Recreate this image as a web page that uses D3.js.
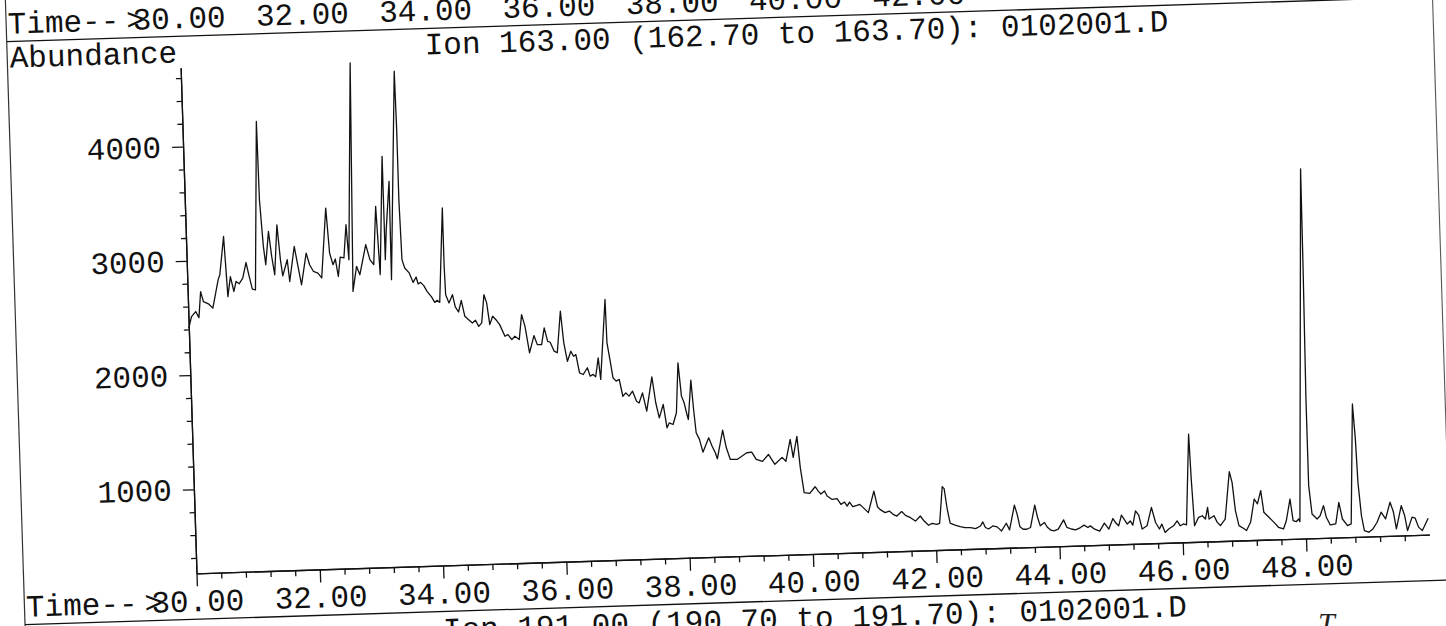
<!DOCTYPE html>
<html><head><meta charset="utf-8">
<script src="https://cdn.jsdelivr.net/npm/d3@7"></script>
<style>html,body{margin:0;padding:0;background:#fff;overflow:hidden}</style>
</head><body>
<svg id="c" width="1446" height="626"></svg>
<script>
// ---- data ----
const times = [
30.00,30.05,30.12,30.17,30.21,30.25,30.33,30.40,30.50,30.53,
30.61,30.65,30.70,30.75,30.79,30.84,30.90,30.96,31.00,31.05,
31.10,31.20,31.21,31.25,31.28,31.34,31.38,31.42,31.48,31.52,
31.55,31.63,31.66,31.75,31.80,31.85,31.94,31.99,32.05,32.12,
32.18,32.28,32.32,32.37,32.41,32.45,32.49,32.55,32.60,32.63,
32.75,32.68,32.75,32.80,32.91,32.97,33.03,33.09,33.13,33.22,
33.22,33.25,33.32,33.31,33.46,33.47,33.47,33.49,33.53,33.60,
33.66,33.71,33.74,33.78,33.83,33.88,33.95,34.00,34.04,34.08,
34.17,34.17,34.18,34.23,34.29,34.33,34.38,34.43,34.48,34.54,
34.60,34.65,34.70,34.75,34.80,34.84,34.88,34.93,34.99,35.04,
35.12,35.17,35.23,35.28,35.35,35.40,35.45,35.51,35.59,35.64,
35.71,35.76,35.81,35.85,35.91,35.96,36.03,36.07,36.12,36.18,
36.22,36.26,36.31,36.37,36.44,36.48,36.53,36.57,36.62,36.65,
36.76,36.77,36.81,36.85,36.90,36.95,37.00,37.05,37.10,37.16,
37.22,37.26,37.32,37.38,37.48,37.53,37.58,37.65,37.70,37.74,
37.80,37.86,37.91,37.95,37.99,38.03,38.05,38.11,38.14,38.17,
38.22,38.27,38.37,38.42,38.47,38.50,38.60,38.65,38.71,38.82,
38.98,39.06,39.13,39.23,39.33,39.43,39.55,39.61,39.69,39.73,
39.80,39.84,39.89,39.98,40.07,40.12,40.16,40.22,40.26,40.34,
40.42,40.48,40.54,40.58,40.62,40.67,40.74,40.78,40.84,40.92,
41.02,41.07,41.11,41.19,41.26,41.32,41.38,41.46,41.52,41.60,
41.68,41.76,41.82,41.89,41.95,42.02,42.07,42.13,42.16,42.20,
42.24,42.32,42.40,42.48,42.57,42.65,42.73,42.77,42.81,42.86,
42.93,43.00,43.07,43.15,43.20,43.29,43.33,43.37,43.42,43.48,
43.54,43.62,43.66,43.70,43.77,43.81,43.87,43.92,43.99,44.08,
44.13,44.20,44.27,44.35,44.41,44.47,44.51,44.58,44.66,44.74,
44.81,44.88,44.92,44.97,45.02,45.06,45.11,45.16,45.20,45.25,
45.30,45.35,45.43,45.51,45.57,45.63,45.67,45.72,45.78,45.86,
45.92,45.97,46.02,46.07,46.15,46.17,46.20,46.27,46.33,46.38,
46.42,46.44,46.52,46.57,46.62,46.70,46.79,46.83,46.87,46.92,
46.99,47.04,47.11,47.18,47.23,47.29,47.33,47.41,47.49,47.56,
47.64,47.69,47.76,47.80,47.85,47.89,47.91,48.10,48.09,48.07,
48.07,48.11,48.19,48.24,48.30,48.34,48.40,48.49,48.55,48.60,
48.68,48.74,48.82,48.85,48.87,48.91,48.95,49.02,49.09,49.16,
49.23,49.30,49.38,49.43,49.47,49.56,49.61,49.65,49.73,49.78,
49.83,49.89,49.99
];
const abundance = [
2411,2511,2554,2500,2727,2639,2618,2579,2825,2869,
3203,2676,2850,2719,2806,2785,2834,2969,2861,2735,
2728,4200,3514,3105,2944,3234,3015,2854,3290,2983,
2842,2982,2791,3096,2926,2759,3035,2932,2872,2857,
2813,3423,3029,2926,2975,2822,2991,2982,3272,2965,
4686,2687,2905,2831,3092,2960,2915,3424,2826,3860,
2956,3218,3640,2779,4601,4090,3477,2951,2877,2833,
2749,2796,2734,2747,2718,2667,2617,2568,2586,2567,
3392,2881,2633,2560,2631,2523,2478,2579,2438,2408,
2378,2401,2347,2376,2623,2550,2359,2431,2395,2356,
2253,2267,2222,2250,2220,2438,2334,2101,2251,2171,
2170,2315,2197,2188,2109,2094,2457,2179,2017,2104,
2059,2073,1913,1897,1955,1881,1895,1874,2039,1849,
2547,2168,2017,1860,1830,1844,1696,1725,1695,1738,
1648,1633,1720,1559,1858,1630,1497,1613,1408,1451,
1435,1537,1973,1681,1622,1519,1475,1818,1561,1357,
1298,1185,1309,1236,1176,1123,1373,1219,1114,1112,
1168,1172,1107,1088,1147,1059,1118,1083,1273,1115,
1297,1023,803,795,852,813,786,812,767,736,
742,691,710,674,708,667,678,686,656,611,
798,660,636,606,619,589,573,611,577,555,
524,567,522,484,500,490,498,818,800,619,
496,478,463,453,452,442,463,498,449,435,
460,451,414,480,421,636,557,445,423,422,
436,630,522,448,476,436,407,400,414,494,
428,412,403,422,442,421,434,404,385,454,
401,492,457,427,519,484,440,466,429,553,
515,392,419,579,446,388,430,356,385,412,
454,410,425,416,1210,815,407,479,492,462,
564,461,489,430,401,456,869,776,527,395,
371,350,421,624,580,695,505,460,414,370,
354,425,614,424,414,437,413,3498,2624,1485,
726,477,432,460,547,444,376,384,572,425,
366,380,1428,1122,742,449,317,302,330,387,
474,414,559,472,324,526,438,306,422,412,
333,302,408
];
const xMajorTicks = [30,32,34,36,38,40,42,44,46,48];
const xMinorTicks = d3.range(0,50).filter(i => i % 5 !== 0).map(i => +(30 + i*0.4).toFixed(1));
const yMajorTicks = [1000,2000,3000,4000];
const yMinorTicks = d3.range(400,4700,200).filter(v => v % 1000 !== 0);
const timeLabel = "Time--";
const timeArrow = ">";
const yTitle = "Abundance";
const chartTitle = "Ion 163.00 (162.70 to 163.70): 0102001.D";
const nextTitle = "Ion 191.00 (190.70 to 191.70): 0102001.D";
const prevTimeLabels = [30,32,34,36,38,40,42];

// ---- layout ----
const ox = 196.5, oy = 573.3;
const FONT = "'Liberation Mono','Courier New',monospace";
const FS = 31;
const INK = "#111";

const x = d3.scaleLinear().domain([30, 50]).range([ox, 1429.9]);
const y = d3.scaleLinear().domain([265, 4690]).range([oy, 67.5]);

const svg = d3.select("#c");
svg.append("rect").attr("width",1446).attr("height",626).attr("fill","#fff");
const g = svg.append("g").attr("transform", `rotate(-1.8, ${ox}, ${oy})`);

// page borders and separators
g.append("line").attr("x1",23.5).attr("x2",23.5).attr("y1",-40).attr("y2",680)
  .attr("stroke","#333").attr("stroke-width",1.2);
g.append("line").attr("x1",1450).attr("x2",1450).attr("y1",-40).attr("y2",680)
  .attr("stroke","#555").attr("stroke-width",1.1);
[36, 619.3].forEach(sy => {
  g.append("line").attr("x1",23.5).attr("x2",1450).attr("y1",sy).attr("y2",sy)
    .attr("stroke",INK).attr("stroke-width",1.3);
});

function timeText(yy) {
  const t = g.append("text").attr("x",25).attr("y",yy)
    .attr("font-family",FONT).attr("font-size",FS).attr("fill",INK);
  t.append("tspan").text(timeLabel);
  t.append("tspan").attr("dx",7).text(timeArrow);
}

// previous panel's time labels (top, cut off by the page edge)
g.selectAll("text.prev").data(prevTimeLabels).join("text")
  .attr("class","prev")
  .attr("x", d => x(d)).attr("y", 28)
  .attr("text-anchor","middle")
  .attr("font-family",FONT).attr("font-size",FS).attr("fill",INK)
  .text(d => d3.format(".2f")(d));
timeText(28);

// titles
g.append("text").attr("x",26).attr("y",62)
  .attr("font-family",FONT).attr("font-size",FS).attr("fill",INK).text(yTitle);
const cx = (x.range()[0]+x.range()[1])/2;
g.append("text").attr("x",cx).attr("y",62)
  .attr("text-anchor","middle")
  .attr("font-family",FONT).attr("font-size",FS).attr("fill",INK).text(chartTitle);
g.append("text").attr("x",cx).attr("y",647.3)
  .attr("text-anchor","middle")
  .attr("font-family",FONT).attr("font-size",FS).attr("fill",INK).text(nextTitle);

// x axis
const xMinorG = g.append("g").attr("transform",`translate(0,${oy})`)
  .call(d3.axisBottom(x).tickValues(xMinorTicks).tickSize(6).tickSizeOuter(0).tickFormat(""));
const xMajorG = g.append("g").attr("transform",`translate(0,${oy})`)
  .call(d3.axisBottom(x).tickValues(xMajorTicks).tickSize(13).tickSizeOuter(0).tickFormat(d3.format(".2f")));
[xMinorG, xMajorG].forEach(a => {
  a.selectAll("path,line").attr("stroke",INK).attr("stroke-width",1.3);
});
xMajorG.selectAll("text").attr("y",38).attr("dy",0)
  .attr("font-family",FONT).attr("font-size",FS).attr("fill",INK);
timeText(oy+38);

// y axis
const yMinorG = g.append("g").attr("transform",`translate(${ox},0)`)
  .call(d3.axisLeft(y).tickValues(yMinorTicks).tickSize(5).tickSizeOuter(0).tickFormat(""));
const yMajorG = g.append("g").attr("transform",`translate(${ox},0)`)
  .call(d3.axisLeft(y).tickValues(yMajorTicks).tickSize(11).tickPadding(11).tickSizeOuter(0).tickFormat(d3.format("d")));
[yMinorG, yMajorG].forEach(a => {
  a.selectAll("path,line").attr("stroke",INK).attr("stroke-width",1.3);
});
yMajorG.selectAll("text").attr("font-family",FONT).attr("font-size",FS).attr("fill",INK);

// trace
const n = Math.min(times.length, abundance.length);
const pts = d3.range(n).map(i => ({t: times[i], a: abundance[i]}));
g.append("path").datum(pts)
  .attr("fill","none").attr("stroke",INK).attr("stroke-width",1.3)
  .attr("stroke-linejoin","round")
  .attr("d", d3.line().x(d => x(d.t)).y(d => y(d.a)));

// handwritten mark
svg.append("text").attr("x",1318).attr("y",633)
  .attr("font-family","'Liberation Serif',serif").attr("font-style","italic")
  .attr("font-size",30).attr("fill","#222").text("T");
</script>
</body></html>
